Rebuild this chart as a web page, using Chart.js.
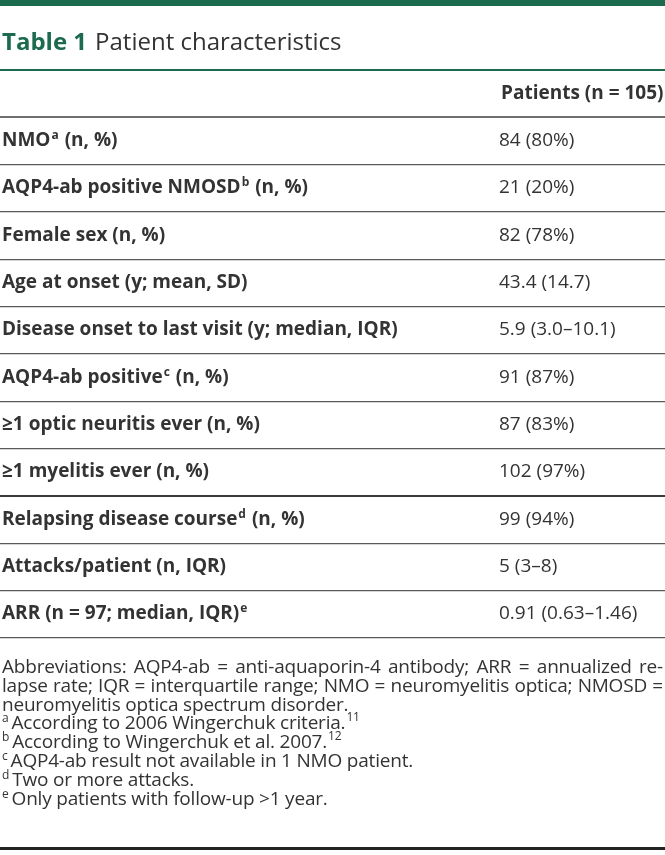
<!DOCTYPE html>
<html>
<head>
<meta charset="utf-8">
<script src="https://cdn.jsdelivr.net/npm/chart.js@4.4.1/dist/chart.umd.min.js"></script>
<style>
  html, body { margin: 0; padding: 0; background: #fff; }
  body { width: 665px; height: 855px; position: relative; overflow: hidden; font-family: "Open Sans", sans-serif; color: #333; }
  #table-chart { position: absolute; left: 0; top: 0; }
  .top-bar { position: absolute; left: 0; top: 0; width: 665px; height: 6px; background: #1d6b4e; }
  .title { position: absolute; left: 2px; top: 26px; font-size: 24px; line-height: 30px; white-space: nowrap; }
  .title b { color: #1d6b4e; font-weight: 700; margin-right: 8px; }
  .notes { position: absolute; left: 2px; top: 657px; width: 661px; font-size: 19px; line-height: 18.8px; letter-spacing: -0.2px; }
  .notes div { white-space: nowrap; height: 18.8px; }
  .notes .j { text-align: justify; text-align-last: justify; }
  .notes sup { font-size: 12px; position: relative; top: -7px; vertical-align: baseline; line-height: 0; margin-right: 3px; }
  .notes .ref { font-size: 12px; position: relative; top: -8px; line-height: 0; margin-left: 1px; }
  .bottom-rule { position: absolute; left: 0; top: 847px; width: 665px; height: 3px; background: #222; }
</style>
</head>
<body>
<canvas id="table-chart" width="665" height="855"></canvas>
<div class="top-bar"></div>
<div class="title"><b>Table 1</b>Patient characteristics</div>
<div class="notes">
  <div class="j">Abbreviations: AQP4-ab = anti-aquaporin-4 antibody; ARR = annualized re-</div>
  <div class="j">lapse rate; IQR = interquartile range; NMO = neuromyelitis optica; NMOSD =</div>
  <div>neuromyelitis optica spectrum disorder.</div>
  <div><sup>a</sup>According to 2006 Wingerchuk criteria.<span class="ref">11</span></div>
  <div><sup>b</sup>According to Wingerchuk et al. 2007.<span class="ref">12</span></div>
  <div><sup>c</sup>AQP4-ab result not available in 1 NMO patient.</div>
  <div><sup>d</sup>Two or more attacks.</div>
  <div><sup>e</sup>Only patients with follow-up &gt;1 year.</div>
</div>
<div class="bottom-rule"></div>

<script>
// column header and rows; {x} marks a footnote letter
const columnHeader = 'Patients (n = 105)';
const rowLabels = [
    'NMO{a} (n, %)',
    'AQP4-ab positive NMOSD{b} (n, %)',
    'Female sex (n, %)',
    'Age at onset (y; mean, SD)',
    'Disease onset to last visit (y; median, IQR)',
    'AQP4-ab positive{c} (n, %)',
    '≥1 optic neuritis ever (n, %)',
    '≥1 myelitis ever (n, %)',
    'Relapsing disease course{d} (n, %)',
    'Attacks/patient (n, IQR)',
    'ARR (n = 97; median, IQR){e}'
];
const rowValues = [
    '84 (80%)',
    '21 (20%)',
    '82 (78%)',
    '43.4 (14.7)',
    '5.9 (3.0–10.1)',
    '91 (87%)',
    '87 (83%)',
    '102 (97%)',
    '99 (94%)',
    '5 (3–8)',
    '0.91 (0.63–1.46)'
];

const scaleLabels = [columnHeader, ...rowLabels];

const TEXT = '#333';
const GREEN = '#1d6b4e';
const VALUE_X = 499;

function ruleColor(i) {
    if (i === 0) return GREEN;
    if (i === 1) return '#6f6f6f';
    if (i === 9 || i === 12) return '#3a3a3a';
    return '#5a5a5a';
}
function ruleWidth(i) {
    if (i === 0 || i === 1 || i === 9 || i === 12) return 2;
    return 1.3;
}

// draws a label with {x} superscripts
function drawRich(ctx, text, x, y) {
    const parts = text.split(/(\{[a-z]\})/);
    parts.forEach(p => {
        if (!p) return;
        if (p[0] === '{') {
            ctx.font = '700 12px "Open Sans"';
            ctx.fillText(p.slice(1, -1), x + 1, y - 7);
            x += ctx.measureText(p.slice(1, -1)).width + 2;
        } else {
            ctx.font = '700 19px "Open Sans"';
            ctx.fillText(p, x, y);
            x += ctx.measureText(p).width;
        }
    });
}

const cellText = {
    id: 'cellText',
    afterDraw(chart) {
        const ctx = chart.ctx;
        const y = chart.scales.y;
        ctx.save();
        ctx.fillStyle = TEXT;
        ctx.textBaseline = 'alphabetic';
        ctx.textAlign = 'left';

        ctx.font = '700 19px "Open Sans"';
        ctx.fillText(columnHeader, VALUE_X + 2, y.getPixelForValue(0) + 5);

        rowLabels.forEach((lab, i) => {
            const py = y.getPixelForValue(i + 1) + 5;
            drawRich(ctx, lab, 2, py);
            ctx.font = '400 19px "Open Sans"';
            ctx.fillText(rowValues[i], VALUE_X, py);
        });
        ctx.restore();
    }
};

new Chart(document.getElementById('table-chart'), {
    type: 'bar',
    data: {
        labels: scaleLabels,
        datasets: [{ data: scaleLabels.map(() => null) }]
    },
    options: {
        indexAxis: 'y',
        responsive: false,
        animation: false,
        layout: { padding: { top: 70, bottom: 217, left: 0, right: 0 } },
        plugins: { legend: { display: false }, tooltip: { enabled: false } },
        scales: {
            x: { type: 'linear', display: false, min: 0, max: 1 },
            y: {
                type: 'category',
                offset: true,
                ticks: { display: false },
                border: { display: false },
                grid: {
                    offset: true,
                    drawTicks: false,
                    color: c => ruleColor(c.index),
                    lineWidth: c => ruleWidth(c.index)
                }
            }
        }
    },
    plugins: [cellText]
});
</script>
</body>
</html>
